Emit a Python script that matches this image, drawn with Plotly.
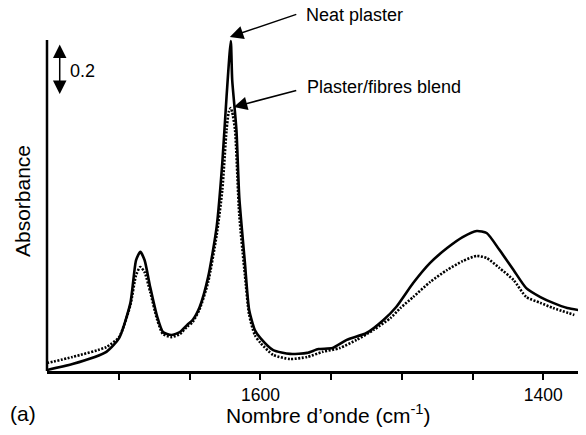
import plotly.graph_objects as go

# FTIR absorbance spectra, 1750-1375 cm-1
wn_neat = [1751, 1733, 1709, 1700, 1692, 1688, 1685, 1682, 1678, 1673, 1669, 1663,
           1657, 1652, 1648, 1643, 1637, 1631, 1627, 1624, 1621, 1620, 1617, 1615,
           1611, 1608, 1604, 1600, 1591, 1579, 1567, 1559, 1549, 1539, 1525, 1513,
           1504, 1492, 1480, 1468, 1457, 1447, 1440, 1431, 1421, 1412, 1402, 1393,
           1383, 1375]
abs_neat = [0.004, 0.027, 0.075, 0.129, 0.267, 0.435, 0.467, 0.435, 0.329, 0.212, 0.153, 0.141,
            0.153, 0.180, 0.200, 0.251, 0.369, 0.565, 0.816, 1.075, 1.294, 1.141, 0.945, 0.682,
            0.424, 0.239, 0.161, 0.129, 0.082, 0.067, 0.071, 0.086, 0.090, 0.122, 0.149, 0.200,
            0.251, 0.345, 0.424, 0.482, 0.525, 0.549, 0.541, 0.475, 0.396, 0.325, 0.290, 0.267,
            0.247, 0.239]

wn_blend = [1751, 1733, 1709, 1700, 1692, 1688, 1685, 1682, 1678, 1673, 1669, 1663,
            1657, 1652, 1648, 1643, 1637, 1631, 1627, 1624, 1622.4, 1621, 1620, 1618,
            1615, 1611, 1608, 1604, 1600, 1591, 1579, 1567, 1556, 1544, 1532, 1520,
            1508, 1501, 1492, 1480, 1468, 1457, 1447, 1440, 1431, 1421, 1412, 1402,
            1393, 1378]
abs_blend = [0.031, 0.055, 0.094, 0.133, 0.259, 0.376, 0.408, 0.388, 0.310, 0.200, 0.145, 0.133,
             0.145, 0.173, 0.192, 0.243, 0.349, 0.533, 0.710, 0.945, 1.016, 1.031, 1.016, 0.945,
             0.612, 0.376, 0.220, 0.141, 0.110, 0.063, 0.047, 0.055, 0.075, 0.090, 0.122, 0.161,
             0.208, 0.247, 0.290, 0.349, 0.396, 0.431, 0.451, 0.443, 0.404, 0.357, 0.290, 0.267,
             0.247, 0.220]

tick_vals = [1600, 1400]
tick_text = ["1600", "1400"]
minor_tick_vals = [1700, 1650, 1550, 1500, 1450]

x_range = [1751, 1375.4]
y_range = [0, 1.337]
y_axis_top = 1.298
scale_bar = [1.086, 1.286]   # 0.2 absorbance units
scale_bar_x = 1742

FONT = "Liberation Sans, Arial, Helvetica, sans-serif"

fig = go.Figure()
fig.add_trace(go.Scatter(x=wn_neat, y=abs_neat, mode="lines",
                         line=dict(color="black", width=2.6, shape="spline", smoothing=0.6),
                         showlegend=False))
fig.add_trace(go.Scatter(x=wn_blend, y=abs_blend, mode="lines",
                         line=dict(color="black", width=2.6, dash="2px,1.5px",
                                   shape="spline", smoothing=0.6),
                         showlegend=False))

# left axis line
fig.add_shape(type="line", xref="paper", yref="y", x0=0, x1=0, y0=0, y1=y_axis_top,
              line=dict(color="black", width=2.5))

# 0.2 scale bar (double-headed arrow)
fig.add_annotation(x=scale_bar_x, y=scale_bar[0], ax=scale_bar_x, ay=scale_bar[1],
                   xref="x", yref="y", axref="x", ayref="y", text="",
                   showarrow=True, arrowhead=2, startarrowhead=2, arrowside="end+start",
                   arrowsize=1.8, startarrowsize=1.8, arrowwidth=1.5, arrowcolor="black")
fig.add_annotation(x=0.0395, y=0.880, xref="paper", yref="paper", text="0.2",
                   showarrow=False, xanchor="left", yanchor="middle",
                   font=dict(family=FONT, size=18, color="black"))

# peak labels with arrows
fig.add_annotation(x=1621.7, y=1.310, xref="x", yref="y", ax=68, ay=-23,
                   axref="pixel", ayref="pixel", text="", showarrow=True,
                   arrowhead=2, arrowsize=1.8, arrowwidth=1.5, arrowcolor="black")
fig.add_annotation(x=1618.9, y=1.035, xref="x", yref="y", ax=64, ay=-17,
                   axref="pixel", ayref="pixel", text="", showarrow=True,
                   arrowhead=2, arrowsize=1.8, arrowwidth=1.5, arrowcolor="black")
fig.add_annotation(x=0.484, y=1.044, xref="paper", yref="paper", text="Neat plaster",
                   showarrow=False, xanchor="left", yanchor="middle",
                   font=dict(family=FONT, size=18, color="black"))
fig.add_annotation(x=0.486, y=0.833, xref="paper", yref="paper", text="Plaster/fibres blend",
                   showarrow=False, xanchor="left", yanchor="middle",
                   font=dict(family=FONT, size=18, color="black"))

# axis titles and panel label
fig.add_annotation(x=-0.047, y=0.4985, xref="paper", yref="paper", text="Absorbance",
                   textangle=-90, showarrow=False, xanchor="center", yanchor="middle",
                   font=dict(family=FONT, size=21, color="black"))
fig.add_annotation(x=0.529, y=-0.126, xref="paper", yref="paper",
                   text="Nombre d\u2019onde (cm<sup>-1</sup>)",
                   showarrow=False, xanchor="center", yanchor="middle",
                   font=dict(family=FONT, size=21, color="black"))
fig.add_annotation(x=-0.045, y=-0.126, xref="paper", yref="paper", text="(a)",
                   showarrow=False, xanchor="center", yanchor="middle",
                   font=dict(family=FONT, size=21, color="black"))

fig.update_layout(
    width=586, height=435,
    margin=dict(l=47, r=8, t=30, b=64),
    paper_bgcolor="white", plot_bgcolor="white",
    xaxis=dict(range=x_range, showgrid=False, zeroline=False,
               showline=True, linecolor="black", linewidth=2.5,
               ticks="outside", ticklen=6, tickwidth=2, tickcolor="black",
               tickmode="array", tickvals=tick_vals, ticktext=tick_text,
               ticklabelstandoff=0,
               tickfont=dict(family=FONT, size=17.5, color="black"),
               minor=dict(ticks="outside", ticklen=6, tickwidth=2, tickcolor="black",
                          tickmode="array", tickvals=minor_tick_vals, showgrid=False)),
    yaxis=dict(range=y_range, showgrid=False, zeroline=False, showline=False,
               showticklabels=False, ticks=""),
)

fig.write_html("out.html")
